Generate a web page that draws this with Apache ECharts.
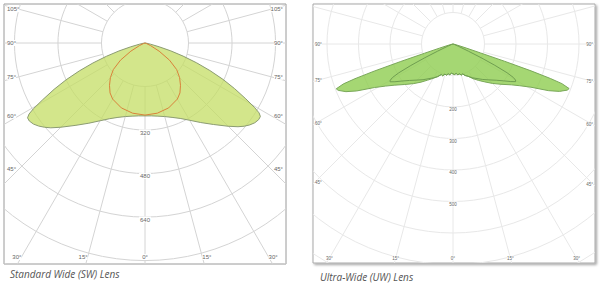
<!DOCTYPE html>
<html><head><meta charset="utf-8">
<script src="https://cdn.jsdelivr.net/npm/echarts@6/dist/echarts.min.js"></script>
<style>html,body{margin:0;padding:0;background:#fff}#c{width:600px;height:287px}</style>
</head><body><div id="c"></div>
<script>
// ---------------- DATA ----------------
// angles in degrees from nadir (0° = straight down); intensities in cd
const swAngles      = [0,5,10,15,20,25,30,35,40,45,48,50,52,54,56,57.5,58.5,59.5,61,63,65,67,69,71,73,75,78,82,90];
const swOuterLeft   = [268,269,273,280,291,307,330,360,395,438,466,482,496,507,513,512,500,476,430,375,320,262,205,150,100,55,20,6,0];
const swOuterRight  = [268,269,273,280,291,306,328,357,391,433,460,476,489,499,504,503,492,468,424,370,316,259,203,148,99,54,20,6,0];
const swInnerAngles = [0,10,20,30,35,40,45,50,55,60,65,70,90];
const swInnerLeft   = [265,262,254,238,224,203,180,152,110,60,22,5,0];
const swInnerRight  = [265,262,254,238,224,203,180,152,110,60,22,5,0];
const swRings       = [160,320,480,640,800,960,1120];
const swRingLabels  = [320,480,640];
const swAngleTicks  = [-105,-90,-75,-60,-45,-30,-15,0,15,30,45,60,75,90,105];

const uwAngles      = [0,3,6,9,12,15,18,21,25,30,35,40,45,50,55,58,61,64,66,68,69,70,70.5,71,71.5,72,73,75,80,90];
const uwOuterLeft   = [95,93,98,96,101,99,106,104,114,126,140,158,178,200,228,252,285,340,372,393,397,370,330,265,175,95,45,15,3,0];
const uwOuterRight  = [95,97,94,99,97,102,100,107,113,127,141,157,177,199,226,250,283,338,370,391,395,368,328,262,172,92,44,15,3,0];
const uwInnerAngles = [0,3,6,9,12,15,18,21,25,30,40,45,50,54,57,59,60,61,62,63,64,65,67,70,90];
const uwInnerLeft   = [95,93,98,96,101,99,106,104,114,124,148,162,180,200,220,233,230,220,195,150,100,55,20,5,0];
const uwInnerRight  = [95,97,94,99,97,102,100,107,113,124,147,161,179,199,219,232,229,219,194,149,99,54,20,5,0];
const uwRings       = [100,200,300,400,500,600,700,800,900];
const uwRingLabels  = [200,300,400,500];
const uwAngleTicks  = [-90,-75,-60,-45,-30,-15,0,15,30,45,60,75,90];

const spokeAngles   = [0,15,30,45,60,75,90,105,120,135,150,165,180,195,210,225,240,255,270,285,300,315,330,345];
const captions      = ['Standard Wide (SW) Lens', 'Ultra-Wide (UW) Lens'];

// ---------------- CHART ----------------
const charts = [
  {
    frame: {left: 4, top: 4, width: 282, height: 260},
    center: [145, 43], k: 0.272,
    angles: swAngles, outerL: swOuterLeft, outerR: swOuterRight,
    innerAngles: swInnerAngles, innerL: swInnerLeft, innerR: swInnerRight,
    rings: swRings, ringLabels: swRingLabels, ticks: swAngleTicks,
    gridColor: '#d4d4d4', labelColor: '#666', tickFont: 6, ringFont: 6,
    fill: 'rgba(196,221,98,0.74)', outerStroke: '#8c9c72', innerStroke: '#d9823a',
    sideTextInset: 3, sideSpokeInset: 15, bottomInset: 7, bottomAlign: 'outward',
    border: '#9a9a9a', shadow: false
  },
  {
    frame: {left: 313, top: 4, width: 282, height: 259},
    center: [453, 44], k: 0.315,
    angles: uwAngles, outerL: uwOuterLeft, outerR: uwOuterRight,
    innerAngles: uwInnerAngles, innerL: uwInnerLeft, innerR: uwInnerRight,
    rings: uwRings, ringLabels: uwRingLabels, ticks: uwAngleTicks,
    gridColor: '#e8e8e8', labelColor: '#666', tickFont: 4.5, ringFont: 4.5,
    fill: 'rgba(140,204,76,0.78)', outerStroke: '#7aa85a', innerStroke: '#6f9e50',
    sideTextInset: 2, sideSpokeInset: 2, bottomInset: 5, bottomAlign: 'center',
    border: '#a8a8a8', shadow: true
  }
];

function toXY(theta, v) {
  const a = theta * Math.PI / 180;
  return [v * Math.sin(a), -v * Math.cos(a)];
}

function polygonPoints(angles, L, R) {
  const pts = [];
  for (let i = angles.length - 1; i >= 0; i--) pts.push(toXY(-angles[i], L[i]));
  for (let i = 1; i < angles.length; i++) pts.push(toXY(angles[i], R[i]));
  return pts;
}

const captionStyle = {fontStyle: 'italic', fontWeight: 'normal', fontSize: 10, color: '#555', fontFamily: 'Open Sans'};
const option = {
  animation: false,
  backgroundColor: '#fff',
  title: [
    {text: captions[0], left: 10, top: 269, padding: 0, textStyle: captionStyle},
    {text: captions[1], left: 320, top: 272, padding: 0, textStyle: captionStyle}
  ],
  grid: [], xAxis: [], yAxis: [], series: []
};

charts.forEach((c, i) => {
  const f = c.frame;
  option.grid.push({
    left: f.left, top: f.top, width: f.width, height: f.height,
    show: true, borderColor: c.border, borderWidth: 1, backgroundColor: '#fff',
    shadowColor: c.shadow ? 'rgba(0,0,0,0.35)' : 'transparent',
    shadowBlur: c.shadow ? 2 : 0, shadowOffsetX: c.shadow ? 1.5 : 0, shadowOffsetY: c.shadow ? 1.5 : 0
  });
  const xmin = (f.left - c.center[0]) / c.k, xmax = (f.left + f.width - c.center[0]) / c.k;
  const ymax = (c.center[1] - f.top) / c.k, ymin = -(f.top + f.height - c.center[1]) / c.k;
  option.xAxis.push({type: 'value', gridIndex: i, min: xmin, max: xmax, show: false, splitLine: {show: false}});
  option.yAxis.push({type: 'value', gridIndex: i, min: ymin, max: ymax, show: false, splitLine: {show: false}});

  // grid: rings, spokes, labels
  option.series.push({
    type: 'custom', xAxisIndex: i, yAxisIndex: i, data: [[0, 0]], clip: true, silent: true, z: 1,
    renderItem: function (params, api) {
      const cs = params.coordSys;
      const O = api.coord([0, 0]);
      const children = [];
      c.rings.forEach(r => {
        const rp = api.size([r, 0])[0];
        children.push({type: 'circle', shape: {cx: O[0], cy: O[1], r: rp},
          style: {fill: 'none', stroke: c.gridColor, lineWidth: 1}});
      });
      spokeAngles.forEach(a => {
        const p1 = api.coord(toXY(a, c.rings[0]));
        const p2 = api.coord(toXY(a, c.rings[c.rings.length - 1] * 2));
        children.push({type: 'line', shape: {x1: p1[0], y1: p1[1], x2: p2[0], y2: p2[1]},
          style: {stroke: c.gridColor, lineWidth: 1}});
      });
      c.ringLabels.forEach(r => {
        const p = api.coord([0, -r]);
        children.push({type: 'text', x: p[0], y: p[1] + 2.5,
          style: {text: String(r), fill: c.labelColor, fontSize: c.ringFont, fontFamily: 'Liberation Sans',
                  align: 'center', verticalAlign: 'middle', backgroundColor: '#fff', padding: [0, 1]}});
      });
      const L = cs.x, R = cs.x + cs.width, B = cs.y + cs.height;
      c.ticks.forEach(t => {
        const a = t * Math.PI / 180;
        const dx = Math.sin(a), dy = Math.cos(a);
        let x, y, align;
        const yb = B - c.bottomInset;
        let sb = dy > 1e-6 ? (yb - O[1]) / dy : Infinity;
        const xs = t < 0 ? L + c.sideSpokeInset : R - c.sideSpokeInset;
        let ss = Math.abs(dx) > 1e-6 ? (xs - O[0]) / dx : Infinity;
        if (ss < 0) ss = Infinity;
        if (sb <= ss) {
          x = O[0] + sb * dx; y = yb;
          if (c.bottomAlign === 'outward') align = t < 0 ? 'right' : (t > 0 ? 'left' : 'center');
          else align = 'center';
        } else {
          y = O[1] + ss * dy;
          if (t < 0) { x = L + c.sideTextInset; align = 'left'; }
          else { x = R - c.sideTextInset; align = 'right'; }
        }
        children.push({type: 'text', x: x, y: y,
          style: {text: Math.abs(t) + '°', fill: c.labelColor, fontSize: c.tickFont, fontFamily: 'Liberation Sans',
                  align: align, verticalAlign: 'middle', backgroundColor: '#fff'}});
      });
      return {type: 'group', children: children,
        clipPath: {type: 'rect', shape: {x: cs.x, y: cs.y, width: cs.width, height: cs.height}}};
    }
  });

  const outerPts = polygonPoints(c.angles, c.outerL, c.outerR);
  option.series.push({
    type: 'custom', xAxisIndex: i, yAxisIndex: i, data: [[0, 0]], clip: true, silent: true, z: 3,
    renderItem: function (params, api) {
      return {type: 'polygon', shape: {points: outerPts.map(p => api.coord(p))},
        style: {fill: c.fill, stroke: c.outerStroke, lineWidth: 1}};
    }
  });
  const innerPts = polygonPoints(c.innerAngles, c.innerL, c.innerR);
  option.series.push({
    type: 'custom', xAxisIndex: i, yAxisIndex: i, data: [[0, 0]], clip: true, silent: true, z: 4,
    renderItem: function (params, api) {
      return {type: 'polygon', shape: {points: innerPts.map(p => api.coord(p))},
        style: {fill: 'none', stroke: c.innerStroke, lineWidth: 1}};
    }
  });
});

const chart = echarts.init(document.getElementById('c'), null, {renderer: 'svg', width: 600, height: 287});
chart.setOption(option);
</script>
</body></html>
